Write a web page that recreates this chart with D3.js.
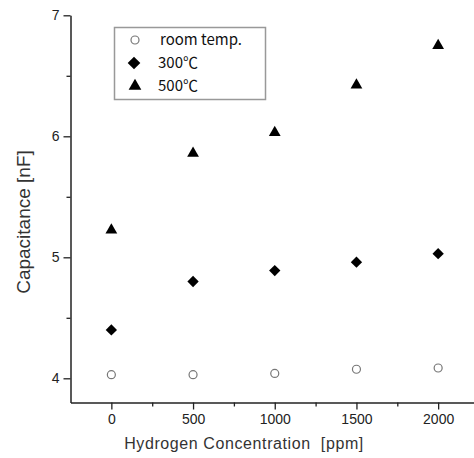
<!DOCTYPE html>
<html>
<head>
<meta charset="utf-8">
<script src="https://cdn.jsdelivr.net/npm/d3@7"></script>
<style>
  body { margin: 0; background: #fff; }
  text { font-family: "Liberation Sans", Arial, sans-serif; }
</style>
</head>
<body>
<div id="chart"></div>
<script>
// data
var conc = [0, 500, 1000, 1500, 2000];
var roomTemp = [4.03, 4.03, 4.04, 4.075, 4.085];
var temp300 = [4.40, 4.80, 4.89, 4.96, 5.03];
var temp500 = [5.225, 5.86, 6.03, 6.424, 6.75];
var seriesNames = ["room temp.", "300\u2103", "500\u2103"];
var xTicks = [0, 500, 1000, 1500, 2000];
var yTicks = [4, 5, 6, 7];

var W = 474, H = 458;
var svg = d3.select("#chart").append("svg")
    .attr("width", W)
    .attr("height", H);

var x = d3.scaleLinear().domain([-250, 2250]).range([70.5, 479]);
var y = d3.scaleLinear().domain([3.8, 7]).range([402.5, 15.3]);

// x axis
svg.append("g")
    .attr("transform", "translate(0," + y(3.8) + ")")
    .call(d3.axisBottom(x).tickValues(xTicks).tickFormat(d3.format("d"))
        .tickSize(7).tickPadding(5).tickSizeOuter(0));
svg.append("g")
    .attr("transform", "translate(0," + y(3.8) + ")")
    .call(d3.axisBottom(x).tickValues([250, 750, 1250, 1750]).tickSize(4).tickFormat("").tickSizeOuter(0))
    .select(".domain").remove();

// y axis
svg.append("g")
    .attr("transform", "translate(" + x(-250) + ",0)")
    .call(d3.axisLeft(y).tickValues(yTicks).tickFormat(d3.format("d"))
        .tickSize(7).tickPadding(4).tickSizeOuter(0));
svg.append("g")
    .attr("transform", "translate(" + x(-250) + ",0)")
    .call(d3.axisLeft(y).tickValues([4.5, 5.5, 6.5]).tickSize(4).tickFormat("").tickSizeOuter(0))
    .select(".domain").remove();

svg.selectAll(".domain").attr("stroke", "#222").attr("stroke-width", 1.5);
svg.selectAll(".tick line").attr("stroke", "#222").attr("stroke-width", 1.3);
svg.selectAll(".tick text")
    .style("font-size", "14px")
    .style("font-family", "'Liberation Sans', Arial, sans-serif")
    .attr("fill", "#222");

// axis titles
svg.append("text")
    .attr("text-anchor", "middle")
    .attr("x", 244)
    .attr("y", 449)
    .style("font-size", "16px")
    .style("letter-spacing", "0.6px")
    .style("white-space", "pre")
    .attr("fill", "#333")
    .text("Hydrogen Concentration  [ppm]");

svg.append("text")
    .attr("text-anchor", "middle")
    .attr("transform", "rotate(-90)")
    .attr("x", -222)
    .attr("y", 30)
    .style("font-size", "19px")
    .attr("fill", "#333")
    .text("Capacitance [nF]");

// markers
var diamond = d3.symbol().type(d3.symbolSquare).size(64);
var triangle = d3.symbol().type(d3.symbolTriangle).size(60);

svg.selectAll("circle.rt")
    .data(conc)
    .enter()
    .append("circle")
    .attr("class", "rt")
    .attr("cx", (d, i) => x(d))
    .attr("cy", (d, i) => y(roomTemp[i]))
    .attr("r", 4)
    .attr("fill", "none")
    .attr("stroke", "#777")
    .attr("stroke-width", 1.2);

svg.selectAll("path.t300")
    .data(conc)
    .enter()
    .append("path")
    .attr("class", "t300")
    .attr("d", diamond)
    .attr("transform", (d, i) => "translate(" + x(d) + "," + y(temp300[i]) + ") rotate(45)")
    .attr("fill", "#000");

svg.selectAll("path.t500")
    .data(conc)
    .enter()
    .append("path")
    .attr("class", "t500")
    .attr("d", triangle)
    .attr("transform", (d, i) => "translate(" + x(d) + "," + y(temp500[i]) + ")")
    .attr("fill", "#000");

// legend
var legend = svg.append("g");
legend.append("rect")
    .attr("x", 114.5)
    .attr("y", 27.5)
    .attr("width", 151)
    .attr("height", 72)
    .attr("fill", "#fff")
    .attr("stroke", "#999")
    .attr("stroke-width", 1.5);

var rows = [40, 63, 86];
legend.append("circle")
    .attr("cx", 135).attr("cy", rows[0]).attr("r", 4)
    .attr("fill", "none").attr("stroke", "#777").attr("stroke-width", 1.2);
legend.append("path")
    .attr("d", d3.symbol().type(d3.symbolSquare).size(80))
    .attr("transform", "translate(134," + rows[1] + ") rotate(45)");
legend.append("path")
    .attr("d", d3.symbol().type(d3.symbolTriangle).size(70))
    .attr("transform", "translate(135," + rows[2] + ")");

legend.selectAll("text")
    .data(seriesNames)
    .enter()
    .append("text")
    .attr("x", (d, i) => i == 0 ? 160 : 158)
    .attr("y", (d, i) => rows[i] + 5)
    .style("font-size", "15px")
    .style("font-family", "'Noto Sans CJK KR', 'DejaVu Sans', sans-serif")
    .attr("fill", "#111")
    .text(d => d);
</script>
</body>
</html>
